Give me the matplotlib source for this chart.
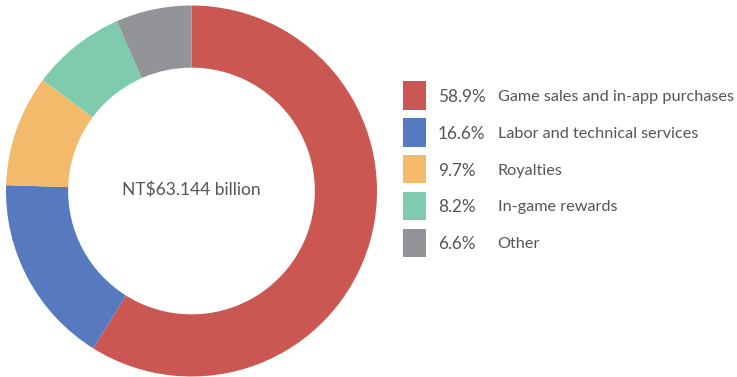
import matplotlib
matplotlib.use("Agg")
import matplotlib.pyplot as plt
from matplotlib.patches import Rectangle

plt.rcParams['font.family'] = ['Lato', 'DejaVu Sans']

categories = ["Game sales and in-app purchases", "Labor and technical services",
              "Royalties", "In-game rewards", "Other"]
shares = [58.9, 16.6, 9.7, 8.2, 6.6]
pct_labels = ["58.9%", "16.6%", "9.7%", "8.2%", "6.6%"]
colors = ["#CB5752", "#5679BF", "#F2BA6A", "#7FCBAE", "#939497"]
total_label = "NT$63.144 billion"

W, H = 737, 377
fig = plt.figure(figsize=(W / 100, H / 100), dpi=100)

# donut
cx, cy, r = 191.5, 186.0, 185.5
ax = fig.add_axes([(cx - r) / W, (cy - r) / H, 2 * r / W, 2 * r / H])
ax.pie(shares, colors=colors, startangle=90, counterclock=False, radius=1.0,
       wedgeprops=dict(width=0.335, edgecolor="none"))
ax.set_xlim(-1, 1)
ax.set_ylim(-1, 1)
ax.set_aspect("equal")
ax.axis("off")
ax.text(0, 0.005, total_label, ha="center", va="center", fontsize=12.5, color="#555555")

# legend
text_color = "#555555"
y0, pitch = 95.3, 36.9
for i, (lab, pct, col) in enumerate(zip(categories, pct_labels, colors)):
    yc = y0 + i * pitch
    fig.patches.append(Rectangle((403 / W, 1 - (yc + 14.3) / H), 23 / W, 28.6 / H,
                                 transform=fig.transFigure, facecolor=col,
                                 edgecolor="none"))
    ty = 1 - (yc + 1.5) / H
    fig.text(438 / W, ty, pct, ha="left", va="center", fontsize=12.3,
             color=text_color)
    fig.text(497.5 / W, ty, lab, ha="left", va="center", fontsize=11.7,
             color=text_color)

fig.savefig("out.png", dpi=100)
